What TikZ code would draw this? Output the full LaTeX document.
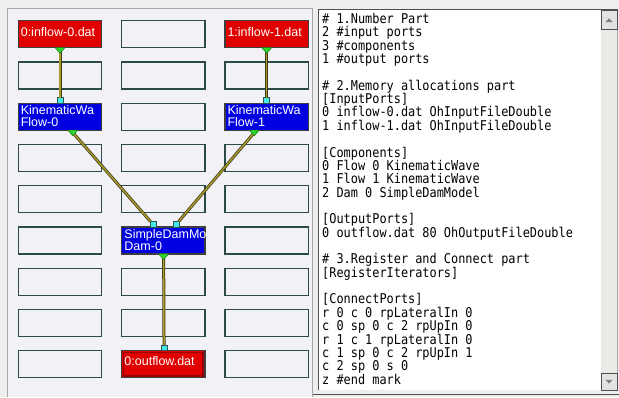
\documentclass[tikz,border=0pt]{standalone}
\usepackage{fontspec}
\setmainfont{Liberation Sans}
\newfontfamily\codefont{DejaVu Sans Mono}
\usetikzlibrary{calc}

\definecolor{winbg}{HTML}{EEEEEE}
\definecolor{panelbg}{HTML}{F2F1F6}
\definecolor{panelline}{HTML}{A8A8A8}
\definecolor{cellline}{HTML}{2C4A4A}
\definecolor{boxline}{HTML}{3E3E3E}
\definecolor{srcred}{HTML}{E00000}
\definecolor{seldark}{HTML}{9A0000}
\definecolor{compblue}{HTML}{0000E0}
\definecolor{wiredark}{HTML}{3E3A1A}
\definecolor{wirecore}{HTML}{A89A28}
\definecolor{portgreen}{HTML}{2CD82C}
\definecolor{portgreendk}{HTML}{1E7A1E}
\definecolor{portcyan}{HTML}{44E6E6}
\definecolor{portcyandk}{HTML}{2A5656}
\definecolor{framedk}{HTML}{505050}
\definecolor{scrolltrack}{HTML}{EAEAE6}
\definecolor{scrollface}{HTML}{E2E2E2}
\definecolor{arrowgray}{HTML}{808080}

\tikzset{
  cell/.style={draw=cellline, line width=1.2pt, fill=panelbg,
    minimum width=83.4pt, minimum height=27pt, inner sep=0pt, outer sep=0pt,
    anchor=north west},
  srcbox/.style={cell, draw=boxline, fill=srcred},
  compbox/.style={cell, draw=boxline, fill=compblue},
  lbl/.style={anchor=base west, inner sep=0pt, text=white,
    font=\fontsize{12.5}{12}\selectfont},
  inport/.style={draw=portcyandk, fill=portcyan, line width=0.6pt,
    minimum width=6pt, minimum height=5.5pt, inner sep=0pt, outer sep=0pt},
  wire/.style={draw=wiredark, double=wirecore, line width=0.75pt,
    double distance=1.5pt},
  outport/.pic={\filldraw[fill=portgreen, draw=portgreendk, line width=0.5pt]
    (-5,0) -- (5,0) -- (0,5.6) -- cycle;},
  codeline/.style={anchor=base west, inner sep=0pt,
    font=\codefont\fontsize{11.9}{13}\selectfont},
}

\begin{document}
\begin{tikzpicture}[x=1pt, y=-1pt]
\useasboundingbox (0,0) rectangle (619,397);
\fill[winbg] (0,0) rectangle (619,397);

% left panel: component grid
\fill[panelbg] (7,8) rectangle (312.5,397);
\draw[panelline, line width=1pt] (7,397) -- (7,8) -- (312.5,8) -- (312.5,397);

% empty grid cells
\foreach \r/\c in {1/2, 2/1, 2/2, 2/3, 3/2, 4/1, 4/2, 4/3, 5/1, 5/2, 5/3,
                   6/1, 6/3, 7/1, 7/2, 7/3, 8/1, 8/2, 8/3, 9/1, 9/3}
  \node[cell] (cell-\r-\c) at ({18.3+103.35*(\c-1)}, {20.7+41.25*(\r-1)}) {};

% occupied cells
\node[srcbox]  (in0)   at (18.3, 20.7) {};
\node[srcbox]  (in1)   at (225, 20.7) {};
\node[compbox] (flow0) at (18.3, 103.2) {};
\node[compbox] (flow1) at (225, 103.2) {};
\node[compbox] (dam0)  at (121.65, 226.95) {};
\node[srcbox]  (out0)  at (121.65, 350.7) {};
\draw[seldark, line width=1.6pt]
  ($(out0.north west)+(1.8,1.8)$) rectangle ($(out0.south east)+(-1.8,-1.8)$);

% labels
\node[lbl] (in0-l)    at ($(in0.north west)+(2.3,15.3)$) {0:inflow-0.dat};
\node[lbl] (in1-l)    at ($(in1.north west)+(2.3,15.3)$) {1:inflow-1.dat};
\node[lbl] (flow0-l1) at ($(flow0.north west)+(2.3,11.3)$) {KinematicWa};
\node[lbl] (flow0-l2) at ($(flow0.north west)+(2.3,23.1)$) {Flow-0};
\node[lbl] (flow1-l1) at ($(flow1.north west)+(2.3,11.3)$) {KinematicWa};
\node[lbl] (flow1-l2) at ($(flow1.north west)+(2.3,23.1)$) {Flow-1};
\node[lbl] (dam0-l1)  at ($(dam0.north west)+(2.6,11.5)$) {SimpleDamMo};
\node[lbl] (dam0-l2)  at ($(dam0.north west)+(2.6,23.6)$) {Dam-0};
\node[lbl] (out0-l)   at ($(out0.north west)+(2.6,15.2)$) {0:outflow.dat};

% input ports
\node[inport] (flow0-in)  at ($(flow0.north)+(0,-2.75)$) {};
\node[inport] (flow1-in)  at ($(flow1.north)+(0,-2.75)$) {};
\node[inport] (dam0-inA)  at ($(dam0.north)+(-10.5,-2.75)$) {};
\node[inport] (dam0-inB)  at ($(dam0.north)+(13,-2.75)$) {};
\node[inport] (out0-in)   at ($(out0.north)+(0.7,-2.75)$) {};

% output ports
\coordinate (in0-out)   at ($(in0.south)+(0,2.4)$);
\coordinate (in1-out)   at ($(in1.south)+(0,2.4)$);
\coordinate (flow0-out) at ($(flow0.south)+(12.8,2.4)$);
\coordinate (flow1-out) at ($(flow1.south)+(-12.4,2.4)$);
\coordinate (dam0-out)  at ($(dam0.south)+(0.3,2.4)$);

% connections
\draw[wire] (in0-out) -- (flow0-in);
\draw[wire] (in1-out) -- (flow1-in);
\draw[wire] (flow0-out) -- (dam0-inA);
\draw[wire] (flow1-out) -- (dam0-inB);
\draw[wire] (dam0-out) -- (out0-in);

\pic at (in0.south) {outport};
\pic at (in1.south) {outport};
\pic at ($(flow0.south)+(12.8,0)$) {outport};
\pic at ($(flow1.south)+(-12.4,0)$) {outport};
\pic at ($(dam0.south)+(0.3,0)$) {outport};

% right panel: text view
\fill[white] (319,10) rectangle (600.5,389.5);
\fill[scrolltrack] (600.5,10) rectangle (617.5,389.5);
\draw[framedk, line width=1.6pt] (318.3,389.5) -- (318.3,9.6) -- (618,9.6);
\draw[framedk, line width=1.6pt] (313,394.3) -- (619,394.3);
\draw[panelline, line width=0.8pt] (617.7,10) -- (617.7,389.5);

% scroll buttons
\filldraw[fill=scrollface, draw=framedk, line width=0.8pt]
  (601,10.7) rectangle (617.2,29.3);
\fill[arrowgray] (605.5,22) -- (612.5,22) -- (609,18.2) -- cycle;
\filldraw[fill=scrollface, draw=framedk, line width=0.8pt]
  (601,373.3) rectangle (617.2,390);
\fill[arrowgray] (605.5,379.8) -- (612.5,379.8) -- (609,383.6) -- cycle;

% configuration text
\foreach \i/\t in {
  1/{\# 1.Number Part},
  2/{2 \#input ports},
  3/{3 \#components},
  4/{1 \#output ports},
  6/{\# 2.Memory allocations part},
  7/{[InputPorts]},
  8/{0 inflow-0.dat OhInputFileDouble},
  9/{1 inflow-1.dat OhInputFileDouble},
  11/{[Components]},
  12/{0 Flow 0 KinematicWave},
  13/{1 Flow 1 KinematicWave},
  14/{2 Dam 0 SimpleDamModel},
  16/{[OutputPorts]},
  17/{0 outflow.dat 80 OhOutputFileDouble},
  19/{\# 3.Register and Connect part},
  20/{[RegisterIterators]},
  22/{[ConnectPorts]},
  23/{r 0 c 0 rpLateralIn 0},
  24/{c 0 sp 0 c 2 rpUpIn 0},
  25/{r 1 c 1 rpLateralIn 0},
  26/{c 1 sp 0 c 2 rpUpIn 1},
  27/{c 2 sp 0 s 0},
  28/{z \#end mark}}
  \node[codeline] (code-\i) at (322, {23.4+13.36*(\i-1)})
    {\scalebox{1}[1.13]{\t}};
\end{tikzpicture}
\end{document}
